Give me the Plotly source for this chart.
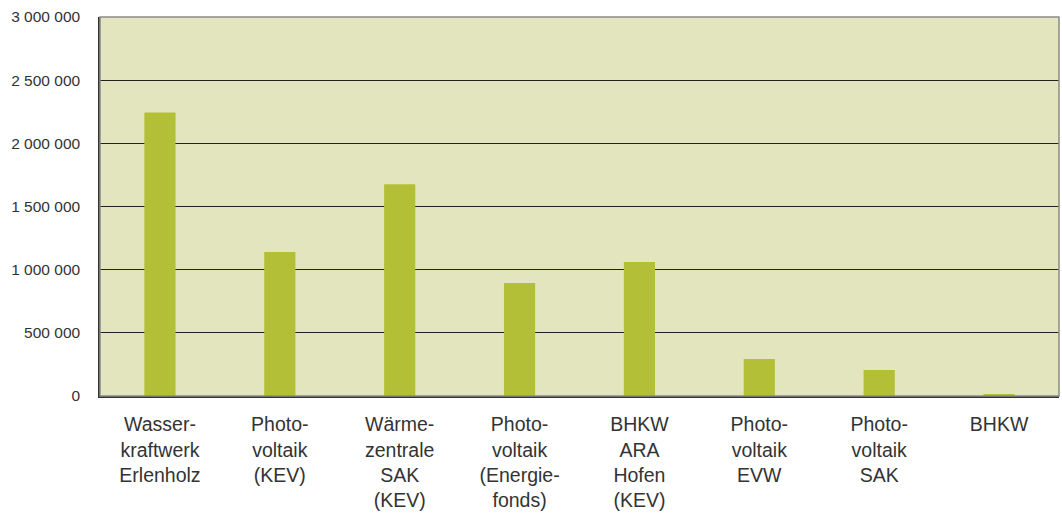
import plotly.graph_objects as go

categories = [
    "Wasser-<br>kraftwerk<br>Erlenholz",
    "Photo-<br>voltaik<br>(KEV)",
    "Wärme-<br>zentrale<br>SAK<br>(KEV)",
    "Photo-<br>voltaik<br>(Energie-<br>fonds)",
    "BHKW<br>ARA<br>Hofen<br>(KEV)",
    "Photo-<br>voltaik<br>EVW",
    "Photo-<br>voltaik<br>SAK",
    "BHKW",
]
values = [2245000, 1139000, 1677000, 894000, 1060000, 293000, 206000, 16000]
y_ticks = [0, 500000, 1000000, 1500000, 2000000, 2500000, 3000000]

BAR = "#B3BF36"
BG = "#E3E5BF"
TXT = "#333333"

fig = go.Figure()
fig.add_trace(go.Bar(x=categories, y=values, marker=dict(color=BAR, line=dict(width=0)),
                     hoverinfo="skip"))

fig.update_layout(
    width=1062, height=515,
    margin=dict(l=100, r=3, t=17, b=119),
    paper_bgcolor="white",
    plot_bgcolor=BG,
    bargap=0.74,
    separators=". ",
    showlegend=False,
    font=dict(family="Liberation Sans, Arial, sans-serif", color=TXT),
    shapes=[dict(type="rect", xref="paper", yref="paper", x0=0, y0=0, x1=1, y1=1,
                 line=dict(color="#8a8a8a", width=1.5), layer="above")],
)
fig.update_yaxes(
    range=[0, 3000000], tickvals=y_ticks, tickformat=",.0f",
    showgrid=True, gridcolor="#222222", gridwidth=1,
    showline=True, linecolor="#333333", linewidth=1.5,
    zeroline=False, ticks="", ticklabelstandoff=15,
    tickfont=dict(size=15.5, color=TXT), automargin=False,
)
fig.update_xaxes(
    showline=True, linecolor="#333333", linewidth=1.5,
    showgrid=False, ticks="", ticklabelstandoff=10,
    tickfont=dict(size=19.5, color=TXT), tickangle=0, automargin=False,
)

fig.write_html(
    "out.html",
    config={"responsive": False, "displayModeBar": False},
    post_script="document.body.style.margin='0';document.body.style.overflow='hidden';",
)
